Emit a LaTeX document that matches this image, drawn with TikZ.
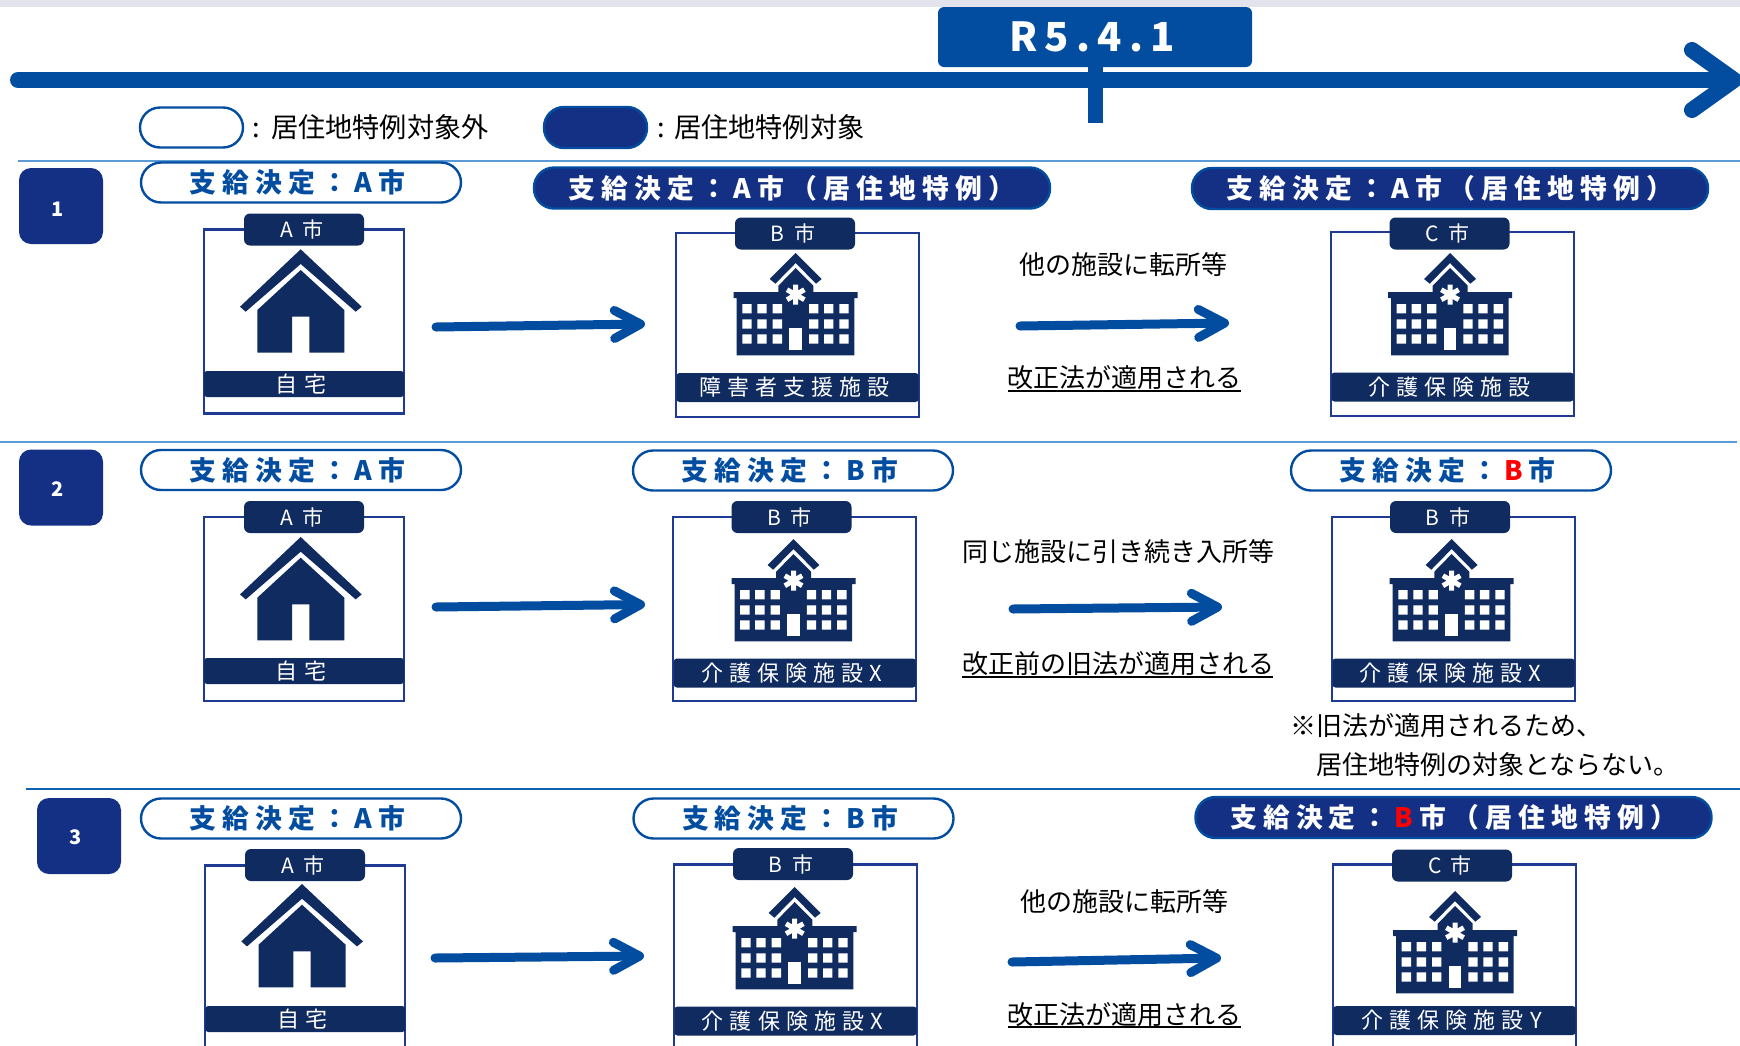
\documentclass[tikz,border=0pt]{standalone}
\usepackage{xcolor}
\usepackage{fontspec}
\setmainfont{Noto Sans CJK JP}
\newfontfamily\spacedFont[LetterSpace=23]{Noto Sans CJK JP}
\newfontfamily\dateFont[LetterSpace=18]{Noto Sans CJK JP}
\newfontfamily\captionFont[LetterSpace=28]{Noto Sans CJK JP}
\newfontfamily\tabFont[LetterSpace=45]{Noto Sans CJK JP}
\usetikzlibrary{arrows.meta}
\definecolor{bandColor}{HTML}{e3e3ee}
\definecolor{timeBlue}{HTML}{034da0}
\definecolor{pillFill}{HTML}{143085}
\definecolor{tabFill}{HTML}{0f2b5f}
\definecolor{cardLine}{HTML}{1f3a93}
\definecolor{sepLight}{HTML}{5b9bd5}
\definecolor{sepDark}{HTML}{0f62b0}
\tikzset{
	timeArrow/.style={draw=timeBlue, line width=8pt, line cap=round, -{Straight Barb[round, length=21pt, width=30pt]}},
	flowArrow/.style={draw=timeBlue, line width=4.5pt, line cap=round, -{Straight Barb[round, length=13pt, width=14pt]}},
	openPill/.style={draw=timeBlue, fill=white, line width=1.2pt, rounded corners=10pt, minimum width=160pt, minimum height=20pt, inner sep=0pt, text=timeBlue, font=\spacedFont\bfseries\fontsize{13.4}{13.4}\selectfont, execute at end node={\kern3.3pt}},
	solidPill/.style={draw=timeBlue, fill=pillFill, line width=1.2pt, rounded corners=10pt, minimum width=258pt, minimum height=20.5pt, inner sep=0pt, text=white, font=\spacedFont\bfseries\fontsize{13.4}{13.4}\selectfont},
	numBox/.style={fill=pillFill, rounded corners=6pt, minimum width=42pt, minimum height=38pt, inner sep=0pt},
	numText/.style={text=white, inner sep=0pt, font=\bfseries\fontsize{10}{10}\selectfont},
	homeCard/.style={draw=cardLine, line width=1.1pt, minimum width=100pt, minimum height=92pt, inner sep=0pt},
	careCard/.style={draw=cardLine, line width=1.1pt, minimum width=121.5pt, minimum height=92pt, inner sep=0pt},
	cityTab/.style={fill=tabFill, rounded corners=3pt, minimum width=60pt, minimum height=16pt, inner sep=0pt, text=white, font=\tabFont\fontsize{10.5}{10.5}\selectfont, execute at end node={\kern2pt}},
	homeBar/.style={fill=tabFill, rounded corners=1.5pt, minimum width=100pt, minimum height=13pt, inner sep=0pt, text=white, font=\captionFont\fontsize{11}{11}\selectfont, execute at end node={\kern3pt}},
	careBar/.style={fill=tabFill, rounded corners=1.5pt, minimum width=121pt, minimum height=14.5pt, inner sep=0pt, text=white, font=\captionFont\fontsize{11}{11}\selectfont, execute at end node={\kern3pt}},
	bodyText/.style={inner sep=0pt, text=black, font=\fontsize{13}{13}\selectfont},
	legendText/.style={anchor=west, inner sep=0pt, text=black, font=\fontsize{13.6}{13.6}\selectfont},
	underRule/.style={draw=black, line width=0.9pt},
	houseIcon/.pic={
		\fill [tabFill] (0,0) -- (61,57.4) -- (55,62.4) -- (0,14.7) -- (-55,62.4) -- (-60.7,57.4) -- cycle;
		\fill [tabFill] (0,20.7) -- (43.6,60.7) -- (43.6,103.4) -- (8.6,103.4) -- (8.6,67.4) -- (-8.7,67.4) -- (-8.7,103.4) -- (-43.4,103.4) -- (-43.4,60.7) -- cycle;
	},
	careIcon/.pic={
		\fill [tabFill] (0,0) -- (26,26) -- (20.3,30.7) -- (0,10) -- (-20.3,30.7) -- (-26,26) -- cycle;
		\fill [tabFill] (0,15) -- (17.7,32.7) -- (17.7,39) -- (62,39) -- (62,45) -- (58.7,45) -- (58.7,102.3) -- (-59,102.3) -- (-59,45) -- (-62,45) -- (-62,39) -- (-17.3,39) -- (-17.3,32.7) -- cycle;
		\fill [white] (-53.3,51) rectangle (-44,60.3) (-38.3,51) rectangle (-29,60.3) (-23,51) rectangle (-13.7,60.3) (13.3,51) rectangle (22.7,60.3) (28.3,51) rectangle (37.7,60.3) (43.7,51) rectangle (53,60.3);
		\fill [white] (-53.3,66.3) rectangle (-44,75.7) (-38.3,66.3) rectangle (-29,75.7) (-23,66.3) rectangle (-13.7,75.7) (13.3,66.3) rectangle (22.7,75.7) (28.3,66.3) rectangle (37.7,75.7) (43.7,66.3) rectangle (53,75.7);
		\fill [white] (-53.3,81.3) rectangle (-44,90.7) (-38.3,81.3) rectangle (-29,90.7) (-23,81.3) rectangle (-13.7,90.7) (13.3,81.3) rectangle (22.7,90.7) (28.3,81.3) rectangle (37.7,90.7) (43.7,81.3) rectangle (53,90.7);
		\fill [white] (-6.3,75) rectangle (6,96.7);
		\draw [white, line width=2.5pt] (0,31.7) -- (0,51.7) (-8.7,36.7) -- (8.7,46.7) (-8.7,46.7) -- (8.7,36.7);
	},
}

\begin{document}
\begin{tikzpicture}[x=0.5pt,y=-0.5pt]
		\useasboundingbox (0,0) rectangle (1740,1045);

		% Timeline
		\coordinate (timeStart) at (18,80);
		\coordinate (timeEnd) at (1742,80);
		\fill [timeBlue] (1087.5,60) rectangle (1103,123);
		\draw [timeArrow] (timeStart) -- (timeEnd);
		\draw [white, line width=2.5pt] (938,69) -- (1252,69);
		\node [fill=timeBlue, rounded corners=3pt, minimum width=157pt, minimum height=30pt, inner sep=0pt, text=white, font=\dateFont\bfseries\fontsize{20}{20}\selectfont, execute at end node={\kern2.8pt}] (dateBox) at (1095,37) {\raisebox{-0.6pt}{R5.4.1}};
		\fill [timeBlue] (1087.5,67) rectangle (1103,72);
		\fill [bandColor] (0,0) rectangle (1740,7);

		% Legend
		\node [openPill, minimum width=51.5pt] (legendOpen) at (191.5,127.5) {};
		\node [solidPill, minimum width=51.5pt] (legendSolid) at (595.5,127.5) {};
		\node [legendText] (legendOpenText) at (252,127) {: \kern1.5pt 居住地特例対象外};
		\node [legendText] (legendSolidText) at (657,127) {: \kern0.5pt 居住地特例対象};

		% Separators
		\draw [sepLight, line width=0.8pt] (18,161) -- (1740,161);
		\draw [sepLight, line width=0.8pt] (0,442) -- (1737,442);
		\draw [sepDark, line width=0.8pt] (26,789) -- (1740,789);

		% Row 1
		\node [numBox] (numOne) at (61,206) {};
		\node [numText] (numOneText) at (58,209) {1};
		\node [openPill] (pillOneA) at (301,182.5) {支給決定：A市};
		\node [solidPill] (pillOneB) at (792,188) {支給決定：A市（居住地特例）};
		\node [solidPill] (pillOneC) at (1450,188.5) {支給決定：A市（居住地特例）};

		\node [homeCard] (cardOneA) at (304,321.5) {};
		\pic at (300.7,249.3) {houseIcon};
		\node [homeBar] (barOneA) at (304,384) {自宅};
		\node [cityTab] (tabOneA) at (304,229.5) {A市};

		\node [careCard] (cardOneB) at (797.5,324.7) {};
		\pic at (795.7,253) {careIcon};
		\node [careBar] (barOneB) at (797.5,387.5) {障害者支援施設};
		\node [cityTab] (tabOneB) at (795,233.5) {B市};

		\node [careCard] (cardOneC) at (1452.5,324) {};
		\pic at (1450,253) {careIcon};
		\node [careBar] (barOneC) at (1452.5,387) {介護保険施設};
		\node [cityTab] (tabOneC) at (1449.5,233.5) {C市};

		\coordinate (flowOneAs) at (436,327);
		\coordinate (flowOneAe) at (645,324);
		\draw [flowArrow] (flowOneAs) -- (flowOneAe);
		\coordinate (flowOneBs) at (1020,326);
		\coordinate (flowOneBe) at (1229,323);
		\draw [flowArrow] (flowOneBs) -- (flowOneBe);
		\node [bodyText] (noteOneT) at (1123,265) {他の施設に転所等};
		\node [bodyText] (noteOneB) at (1124,378) {改正法が適用される};
		\draw [underRule] (1008,391) -- (1241,391);

		% Row 2
		\node [numBox] (numTwo) at (61,487.5) {};
		\node [numText] (numTwoText) at (58,489) {2};
		\node [openPill] (pillTwoA) at (301,470) {支給決定：A市};
		\node [openPill] (pillTwoB) at (793,470.5) {支給決定：B市};
		\node [openPill] (pillTwoC) at (1451,470.5) {支給決定：\kern3pt\textcolor{red}{B}\kern3pt 市};

		\node [homeCard] (cardTwoA) at (304,609) {};
		\pic at (300.7,537) {houseIcon};
		\node [homeBar] (barTwoA) at (304,671) {自宅};
		\node [cityTab] (tabTwoA) at (304,517) {A市};

		\node [careCard] (cardTwoB) at (794.8,609) {};
		\pic at (793.5,539) {careIcon};
		\node [careBar] (barTwoB) at (794.8,673) {介護保険施設X};
		\node [cityTab] (tabTwoB) at (791.5,517) {B市};

		\node [careCard] (cardTwoC) at (1453.5,609) {};
		\pic at (1451.6,539) {careIcon};
		\node [careBar] (barTwoC) at (1453.5,673) {介護保険施設X};
		\node [cityTab] (tabTwoC) at (1450,517) {B市};

		\coordinate (flowTwoAs) at (436,607);
		\coordinate (flowTwoAe) at (645,604.5);
		\draw [flowArrow] (flowTwoAs) -- (flowTwoAe);
		\coordinate (flowTwoBs) at (1013,609);
		\coordinate (flowTwoBe) at (1222,607);
		\draw [flowArrow] (flowTwoBs) -- (flowTwoBe);
		\node [bodyText] (noteTwoT) at (1118,552) {同じ施設に引き続き入所等};
		\node [bodyText] (noteTwoB) at (1118,664) {改正前の旧法が適用される};
		\draw [underRule] (962,677) -- (1273,677);
		\node [bodyText, anchor=west] (remarkA) at (1290,726) {※旧法が適用されるため、};
		\node [bodyText, anchor=west] (remarkB) at (1316,765) {居住地特例の対象とならない。};

		% Row 3
		\node [numBox] (numThree) at (79,836) {};
		\node [numText] (numThreeText) at (76,837) {3};
		\node [openPill] (pillThreeA) at (301,818.5) {支給決定：A市};
		\node [openPill] (pillThreeB) at (793.5,818.5) {支給決定：B市};
		\node [solidPill] (pillThreeC) at (1453.5,817.5) {支給決定：\kern3pt\textcolor{red}{B}\kern3pt 市（居住地特例）};

		\node [homeCard] (cardThreeA) at (305.3,957.5) {};
		\pic at (302,884) {houseIcon};
		\node [homeBar] (barThreeA) at (305.3,1019) {自宅};
		\node [cityTab] (tabThreeA) at (305,865) {A市};

		\node [careCard] (cardThreeB) at (795.5,956.5) {};
		\pic at (794.7,887) {careIcon};
		\node [careBar] (barThreeB) at (795.5,1021) {介護保険施設X};
		\node [cityTab] (tabThreeB) at (793,864) {B市};

		\node [careCard] (cardThreeC) at (1454.5,956.5) {};
		\pic at (1455,891) {careIcon};
		\node [careBar] (barThreeC) at (1454.5,1020.5) {介護保険施設Y};
		\node [cityTab] (tabThreeC) at (1452,865.5) {C市};

		\coordinate (flowThreeAs) at (435,958);
		\coordinate (flowThreeAe) at (644,956);
		\draw [flowArrow] (flowThreeAs) -- (flowThreeAe);
		\coordinate (flowThreeBs) at (1012,962);
		\coordinate (flowThreeBe) at (1221,958);
		\draw [flowArrow] (flowThreeBs) -- (flowThreeBe);
		\node [bodyText] (noteThreeT) at (1124,902) {他の施設に転所等};
		\node [bodyText] (noteThreeB) at (1124,1015) {改正法が適用される};
		\draw [underRule] (1008,1027) -- (1241,1027);
	\end{tikzpicture}
\end{document}
